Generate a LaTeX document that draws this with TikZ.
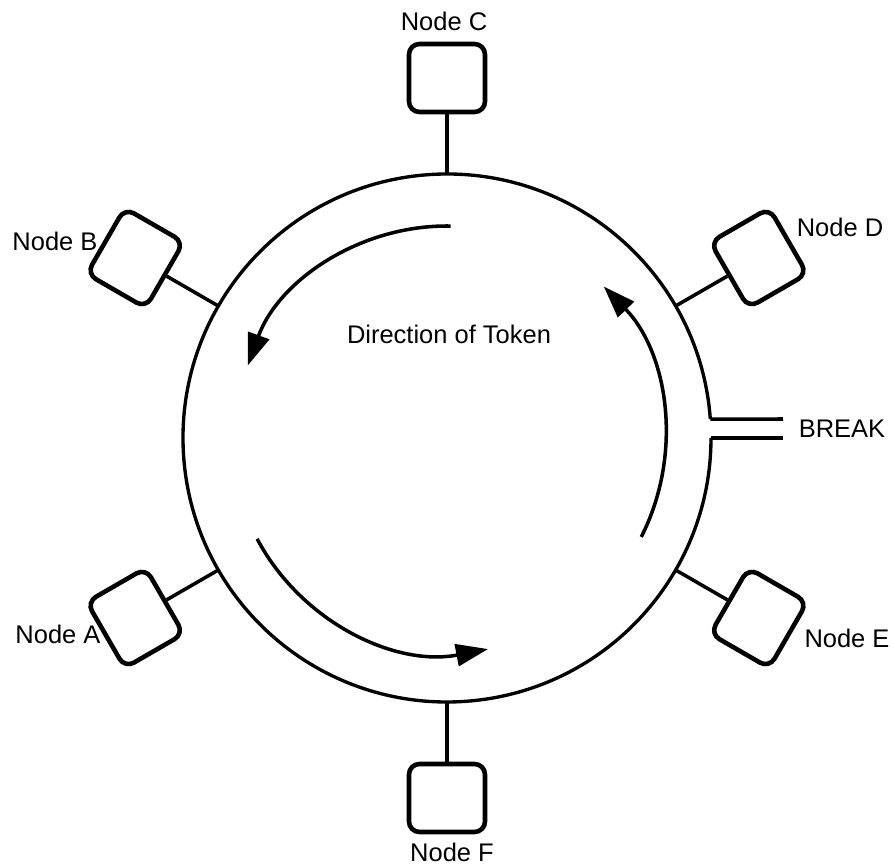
\documentclass[tikz,border=0pt]{standalone}
\usepackage{fontspec}
\setmainfont{Liberation Sans}
\usepackage{tikz}
\usetikzlibrary{arrows.meta, positioning, calc}

\begin{document}
\begin{tikzpicture}[
    every node/.style={font=\fontsize{14.5}{17}\selectfont},
    station/.style={draw, rectangle, rounded corners=6pt, minimum width=1.52cm, minimum height=1.36cm, line width=2.6pt, inner sep=0pt},
    ring/.style={line width=1.9pt},
    tap/.style={line width=2pt},
    flow/.style={-{Triangle[length=6.4mm,width=4.4mm]}, line width=2pt},
    lbl/.style={inner sep=0pt}
]
\useasboundingbox (-8.94,-8.56) rectangle (8.92,8.76);

% ===== Ring with the break on the right =====
\coordinate (brkA) at (4.1:5.28);
\coordinate (brkB) at (0:5.28);
\coordinate (brkAe) at (6.72,0.38);
\coordinate (brkBe) at (6.72,0);
\draw[ring] (brkA) arc[start angle=4.1, end angle=360, radius=5.28];
\draw[tap] (brkA) -- (brkAe);
\draw[tap] (brkB) -- (brkBe);
\node[lbl] (brk) at (7.9,0.18) {BREAK};

% ===== Stations round the ring =====
\node[station, rotate=0]   (c) at (90:7.2)  {};
\node[station, rotate=60]  (b) at (150:7.2) {};
\node[station, rotate=120] (a) at (210:7.2) {};
\node[station, rotate=180] (f) at (270:7.2) {};
\node[station, rotate=240] (e) at (330:7.2) {};
\node[station, rotate=-60] (d) at (30:7.2)  {};

% points where the stations join the ring
\coordinate (ringC) at (90:5.28);
\coordinate (ringB) at (150:5.28);
\coordinate (ringA) at (210:5.28);
\coordinate (ringF) at (270:5.28);
\coordinate (ringE) at (330:5.28);
\coordinate (ringD) at (30:5.28);

\draw[tap] (c.south) -- (ringC);
\draw[tap] (b.south) -- (ringB);
\draw[tap] (a.south) -- (ringA);
\draw[tap] (f.south) -- (ringF);
\draw[tap] (e.south) -- (ringE);
\draw[tap] (d.south) -- (ringD);

% ===== Station labels =====
\node[lbl] (lc) at (-0.06,8.34) {Node C};
\node[lbl] (lb) at (-7.84,3.94) {Node B};
\node[lbl] (la) at (-7.78,-3.92) {Node A};
\node[lbl] (lf) at (0.1,-8.28) {Node F};
\node[lbl] (le) at (8.0,-4.0) {Node E};
\node[lbl] (ld) at (7.86,4.22) {Node D};

% ===== Token direction =====
\node[lbl] (tok) at (0.04,2.08) {Direction of Token};
\draw[flow] (89:4.24) arc[start angle=89, end angle=160, radius=4.24];
\draw[flow] (208:4.3) arc[start angle=208, end angle=281, radius=4.3];
\draw[flow] (333:4.36) arc[start angle=333, end angle=404, radius=4.36];

\end{tikzpicture}
\end{document}
